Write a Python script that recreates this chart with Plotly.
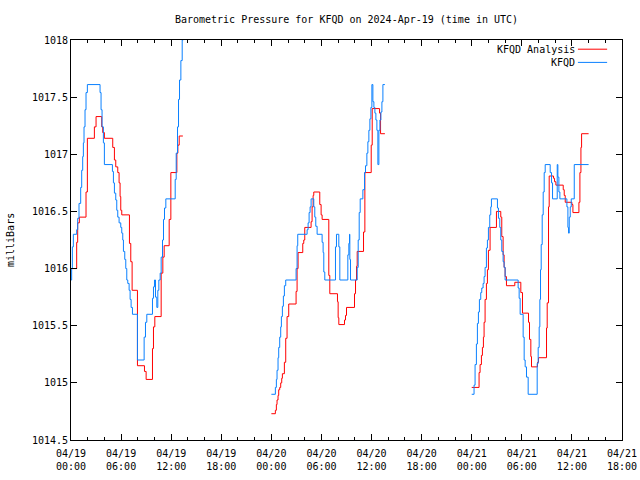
import pandas as pd
import plotly.graph_objects as go

START = pd.Timestamp("2024-04-19 00:00")

# ---- KFQD Analysis (red), hours since 2024-04-19 00:00 UTC ----
analysis_h1 = [0, 0.68, 0.8, 1.0, 1.8, 1.96, 2.8, 3.0, 3.68, 3.8, 4.0, 5.0, 5.2, 5.36, 5.6, 5.76, 5.88, 5.96, 6.08,
               7.0, 7.16, 7.32, 7.96, 8.8, 9.0, 9.76, 9.88, 10.04, 10.8, 11.0, 11.16, 11.76, 11.96, 12.68, 12.8, 12.96, 13.4]
analysis_v1 = [1016.0, 1016.23, 1016.40, 1016.45, 1016.67, 1017.14, 1017.24, 1017.33, 1017.24, 1017.19, 1017.14,
               1017.06, 1016.95, 1016.89, 1016.84, 1016.75, 1016.63, 1016.51, 1016.47, 1016.22, 1016.06, 1015.81,
               1015.15, 1015.10, 1015.03, 1015.30, 1015.49, 1015.58, 1015.96, 1016.10, 1016.20, 1016.43, 1016.84,
               1017.01, 1017.08, 1017.16, 1017.16]
analysis_h2 = [24.0, 24.48, 24.6, 24.68, 24.8, 24.88, 25.0, 25.12, 25.24, 25.32, 25.56, 25.72, 25.88, 26.08, 26.96,
               27.08, 27.2, 27.76, 27.88, 28.0, 28.76, 28.88, 29.0, 29.08, 29.8, 29.96, 30.08, 30.88, 31.0, 31.92,
               32.0, 32.08, 32.76, 32.88, 33.0, 33.96, 34.08, 34.2, 34.28, 35.04, 35.2, 35.96, 36.08, 36.96, 37.08, 37.6]
analysis_v2 = [1014.73, 1014.76, 1014.81, 1014.85, 1014.89, 1014.94, 1014.96, 1015.0, 1015.04, 1015.08, 1015.18,
               1015.39, 1015.58, 1015.69, 1015.80, 1016.0, 1016.14, 1016.22, 1016.25, 1016.36, 1016.41, 1016.54,
               1016.64, 1016.67, 1016.56, 1016.47, 1016.43, 1015.94, 1015.78, 1015.71, 1015.57, 1015.51, 1015.55,
               1015.59, 1015.66, 1015.78, 1015.90, 1016.02, 1016.15, 1016.32, 1016.84, 1017.08, 1017.40, 1017.36,
               1017.18, 1017.18]
analysis_h3 = [48.0, 48.88, 49.0, 49.16, 49.28, 49.4, 49.48, 49.6, 49.76, 49.88, 50.0, 50.2, 50.96, 51.48, 51.6,
               51.76, 51.88, 52.0, 52.16, 53.16, 53.88, 54.08, 54.8, 54.92, 55.08, 55.16, 55.88, 56.0, 56.96, 57.04,
               57.2, 57.28, 57.8, 57.92, 58.08, 58.96, 59.08, 59.2, 60.0, 60.12, 60.84, 60.96, 61.08, 61.16, 62.0]
analysis_v3 = [1014.96, 1015.09, 1015.16, 1015.24, 1015.31, 1015.40, 1015.53, 1015.73, 1015.87, 1015.99, 1016.16,
               1016.36, 1016.50, 1016.45, 1016.28, 1016.12, 1016.01, 1015.93, 1015.85, 1015.88, 1015.79, 1015.61,
               1015.53, 1015.38, 1015.23, 1015.14, 1015.18, 1015.22, 1015.48, 1015.70, 1016.54, 1016.81, 1016.79,
               1016.76, 1016.73, 1016.69, 1016.64, 1016.58, 1016.56, 1016.49, 1016.58, 1016.84, 1017.06, 1017.18,
               1017.18]

# ---- KFQD observations (blue) ----
obs_h1 = [0, 0.08, 0.16, 0.28, 0.68, 0.8, 0.96, 1.16, 1.28, 1.4, 1.48, 1.56, 1.68, 1.8, 1.96, 3.48, 3.6, 3.72, 3.88,
          4.0, 4.96, 5.08, 5.2, 5.36, 5.48, 5.6, 5.76, 5.96, 6.08, 6.2, 6.28, 6.44, 6.56, 6.68, 6.8, 6.96, 7.08, 7.2,
          7.36, 7.96, 8.76, 8.92, 9.08, 9.76, 9.88, 10.0, 10.12, 10.28, 10.4, 10.52, 10.68, 10.8, 10.96, 11.08, 11.2,
          11.36, 12.48, 12.6, 12.76, 12.88, 13.0, 13.16, 13.32, 13.44]
obs_v1 = [1015.90, 1016.0, 1016.19, 1016.30, 1016.34, 1016.44, 1016.57, 1016.71, 1016.86, 1016.98, 1017.10, 1017.24,
          1017.39, 1017.54, 1017.61, 1017.54, 1017.39, 1017.24, 1017.10, 1016.91, 1016.85, 1016.75, 1016.66, 1016.60,
          1016.51, 1016.45, 1016.40, 1016.36, 1016.31, 1016.25, 1016.15, 1016.08, 1016.0, 1015.90, 1015.87, 1015.81,
          1015.73, 1015.66, 1015.60, 1015.20, 1015.40, 1015.53, 1015.60, 1015.74, 1015.84, 1015.90, 1015.75, 1015.66,
          1015.81, 1015.90, 1015.96, 1016.10, 1016.25, 1016.43, 1016.53, 1016.61, 1016.78, 1017.01, 1017.24, 1017.48,
          1017.65, 1017.82, 1018.0, 1018.18]
obs_h2 = [24.0, 24.48, 24.6, 24.68, 24.8, 24.88, 25.0, 25.12, 25.2, 25.32, 25.44, 25.56, 25.72, 26.96, 27.08, 27.16,
          28.28, 28.4, 28.52, 28.64, 28.76, 29.08, 29.2, 29.32, 29.48, 30.08, 30.2, 30.28, 30.4, 31.68, 31.8, 32.08,
          32.2, 33.16, 33.28, 33.36, 33.4, 33.48, 34.28, 34.4, 34.52, 34.64, 34.96, 35.16, 35.28, 35.44, 35.56, 35.68,
          35.8, 35.92, 36.04, 36.16, 36.28, 36.4, 36.52, 36.64, 36.76, 36.88, 37.0, 37.12, 37.24, 37.36, 37.6]
obs_v2 = [1014.90, 1014.96, 1015.03, 1015.11, 1015.22, 1015.31, 1015.40, 1015.49, 1015.58, 1015.67, 1015.76, 1015.85,
          1015.90, 1016.0, 1016.20, 1016.30, 1016.34, 1016.40, 1016.49, 1016.54, 1016.61, 1016.54, 1016.45, 1016.37,
          1016.30, 1016.23, 1016.14, 1015.97, 1015.90, 1016.19, 1016.30, 1016.19, 1015.90, 1016.12, 1016.22, 1016.30,
          1016.08, 1015.90, 1016.01, 1016.25, 1016.49, 1016.61, 1016.69, 1016.84, 1016.90, 1017.01, 1017.11, 1017.21,
          1017.31, 1017.41, 1017.61, 1017.46, 1017.41, 1017.36, 1017.30, 1017.21, 1016.91, 1017.21, 1017.30, 1017.37,
          1017.46, 1017.61, 1017.61]
obs_h3 = [48.0, 48.28, 48.4, 48.56, 48.68, 48.8, 48.92, 49.08, 49.2, 49.36, 49.48, 49.6, 49.76, 49.88, 50.0, 50.16,
          50.28, 50.36, 51.08, 51.2, 51.36, 51.48, 51.6, 51.76, 51.88, 52.0, 53.56, 53.68, 53.8, 54.16, 54.28, 54.4,
          54.56, 54.76, 55.84, 55.96, 56.08, 56.16, 56.24, 56.32, 56.44, 56.56, 56.68, 56.8, 57.4, 57.56, 57.68, 58.24,
          58.32, 58.44, 58.56, 59.4, 59.52, 59.6, 59.68, 59.8, 59.92, 60.28, 62.0]
obs_v3 = [1014.90, 1014.98, 1015.16, 1015.34, 1015.52, 1015.62, 1015.73, 1015.79, 1015.83, 1015.87, 1015.93, 1016.01,
          1016.18, 1016.25, 1016.36, 1016.47, 1016.54, 1016.61, 1016.53, 1016.44, 1016.36, 1016.25, 1016.15, 1016.06,
          1016.01, 1015.90, 1015.83, 1015.74, 1015.60, 1015.40, 1015.20, 1015.14, 1015.05, 1014.90, 1015.17, 1015.31,
          1015.49, 1015.73, 1015.99, 1016.21, 1016.47, 1016.67, 1016.84, 1016.91, 1016.84, 1016.75, 1016.61, 1016.91,
          1016.80, 1016.67, 1016.61, 1016.54, 1016.36, 1016.31, 1016.45, 1016.54, 1016.61, 1016.91, 1016.91]

y_tickvals = [1014.5, 1015, 1015.5, 1016, 1016.5, 1017, 1017.5, 1018]
y_ticktext = ["1014.5", "1015", "1015.5", "1016", "1016.5", "1017", "1017.5", "1018"]

RED = "#ff0000"
BLUE = "#0a80ff"
FONT = "DejaVu Sans Mono"


def join(segs_h, segs_v):
    xs, ys = [], []
    for i, (h, v) in enumerate(zip(segs_h, segs_v)):
        if i:
            xs.append(None)
            ys.append(None)
        xs += [START + pd.Timedelta(hours=t) for t in h]
        ys += v
    return xs, ys


ax, ay = join([analysis_h1, analysis_h2, analysis_h3], [analysis_v1, analysis_v2, analysis_v3])
ox, oy = join([obs_h1, obs_h2, obs_h3], [obs_v1, obs_v2, obs_v3])

fig = go.Figure()
fig.add_trace(go.Scatter(x=ax, y=ay, mode="lines", line=dict(color=RED, width=1, shape="hv"),
                         name="KFQD Analysis", connectgaps=False, showlegend=False))
fig.add_trace(go.Scatter(x=ox, y=oy, mode="lines", line=dict(color=BLUE, width=1, shape="hv"),
                         name="KFQD", connectgaps=False, showlegend=False))

x0 = START
x1 = START + pd.Timedelta(hours=66)
fig.update_layout(
    width=640, height=480,
    margin=dict(l=71, r=18, t=40, b=40, autoexpand=False),
    paper_bgcolor="white", plot_bgcolor="white",
    font=dict(family=FONT, size=10, color="black"),
    title=dict(text="Barometric Pressure for KFQD on 2024-Apr-19 (time in UTC)",
               x=0.5, xref="paper", y=1 - 19 / 480, yanchor="middle",
               font=dict(family=FONT, size=10, color="black")),
    xaxis=dict(type="date", range=[x0, x1], dtick=6 * 3600 * 1000, tick0=x0, automargin=False,
               tickformat="%m/%d<br>%H:%M", ticks="inside", ticklen=6, tickcolor="black",
               ticklabelstandoff=4,
               showline=True, linecolor="black", linewidth=1, mirror="allticks",
               showgrid=False, zeroline=False,
               minor=dict(ticks="inside", ticklen=3, dtick=2 * 3600 * 1000, tick0=x0,
                          tickcolor="black", showgrid=False),
               tickfont=dict(family=FONT, size=10)),
    yaxis=dict(range=[1014.5, 1018], tickvals=y_tickvals, ticktext=y_ticktext, automargin=False,
               ticks="inside", ticklen=6, tickcolor="black",
               showline=True, linecolor="black", linewidth=1, mirror="allticks",
               showgrid=False, zeroline=False,
               tickfont=dict(family=FONT, size=10)),
)

# y-axis title placed like gnuplot's, near the left edge
fig.add_annotation(x=-61 / 551, y=0.5, xref="paper", yref="paper", text="milliBars", showarrow=False,
                   textangle=-90, xanchor="center", yanchor="middle",
                   font=dict(family=FONT, size=10, color="black"))

# legend drawn in gnuplot style: text right-aligned, sample line at right
legend_items = [("KFQD Analysis", RED, 0.977), ("KFQD", BLUE, 0.944)]
for label, color, ypos in legend_items:
    fig.add_annotation(x=0.918, y=ypos, xref="paper", yref="paper", text=label, showarrow=False,
                       xanchor="right", yanchor="middle", font=dict(family=FONT, size=10, color="black"))
    fig.add_shape(type="line", xref="paper", yref="paper", x0=0.92, x1=0.973, y0=ypos, y1=ypos,
                  line=dict(color=color, width=1))

fig.write_html("out.html", config={"displayModeBar": False},
               post_script="document.body.style.margin='0';")
